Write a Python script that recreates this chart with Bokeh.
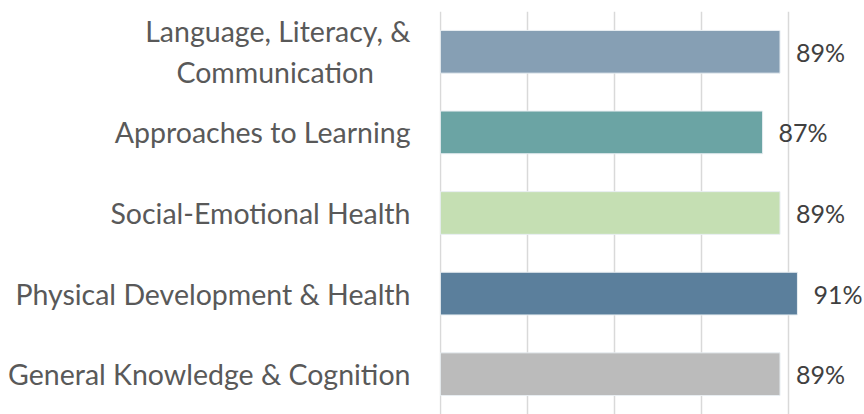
from bokeh.plotting import figure
from bokeh.models import ColumnDataSource, FactorRange, Range1d, FixedTicker
from bokeh.core.properties import value
from bokeh.embed import file_html
from bokeh.resources import INLINE

NB = "\u00a0"
categories = ["Language, Literacy, &\nCommunication" + NB * 5, "Approaches to Learning",
              "Social-Emotional Health", "Physical Development & Health",
              "General Knowledge & Cognition"]
values = [89, 87, 89, 91, 89]
colors = ["#869fb4", "#6ba4a4", "#c5dfb3", "#5b7f9c", "#bbbbbb"]
labels = [f"{v}%" for v in values]
grid_ticks = [50, 60, 70, 80, 90, 100]

FONT = "Lato"
src = ColumnDataSource(dict(cat=categories, val=values, color=colors, label=labels))

p = figure(width=864, height=414, output_backend="svg", toolbar_location=None,
           y_range=FactorRange(factors=list(reversed(categories))),
           x_range=Range1d(49.9, 98.7),
           min_border_left=439, min_border_top=11, min_border_bottom=0, min_border_right=0)
p.hbar(y="cat", left=50, right="val", height=0.53, fill_color="color",
       line_color="#e8eef2", line_width=1, source=src)
p.text(x="val", y="cat", text="label", source=src, x_offset=16, text_align="left",
       text_baseline="middle", text_font=value(FONT), text_font_size="25px",
       text_color="#404040")

p.xaxis.visible = False
p.xaxis.ticker = FixedTicker(ticks=grid_ticks)
p.xgrid.ticker = FixedTicker(ticks=grid_ticks)
p.xgrid.grid_line_color = "#d9d9d9"
p.xgrid.grid_line_width = 1.5
p.ygrid.grid_line_color = None
p.yaxis.axis_line_color = None
p.yaxis.major_tick_line_color = None
p.yaxis.major_tick_out = 0
p.yaxis.major_tick_in = 0
p.yaxis.major_label_standoff = 29
p.yaxis.major_label_text_font = FONT
p.yaxis.major_label_text_font_size = "28.5px"
p.yaxis.major_label_text_color = "#595959"
p.outline_line_color = None
p.background_fill_color = "white"
p.border_fill_color = "white"

open("out.html", "w").write(file_html(p, INLINE))
